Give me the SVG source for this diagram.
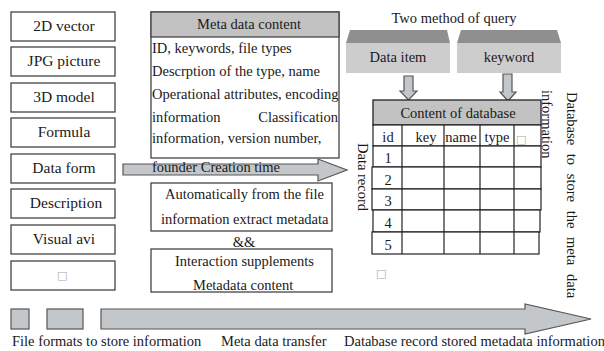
<svg xmlns="http://www.w3.org/2000/svg" width="604" height="351" viewBox="0 0 604 351">
<style>
.box{fill:#fff;stroke:#444;stroke-width:1.3}
.hdr{fill:#c2c2c2;stroke:#444;stroke-width:1.3}
.t{font-family:"Liberation Serif","Times New Roman",serif;font-size:14.5px;fill:#1a1a1a}
.big{font-size:15.5px}
.c{text-anchor:middle}
.e{text-anchor:end}
.arr{fill:#c3c7c9;stroke:#555;stroke-width:1.2}
.grid{fill:#fff;stroke:#222;stroke-width:1.2}
.ln{stroke:#222;stroke-width:1.2}
.tofu{font-family:"DejaVu Sans",sans-serif;font-size:11px;fill:#aaa}
.qtop{fill:#8f8f8f}
.qbody{fill:#cdcdcd}
</style>
<rect width="604" height="351" fill="#fff"/>

<g id="connectors">
  <polygon class="arr" points="123,164 318,164 318,159 347,170 318,181 318,175 123,175"/>
  <polygon class="arr" points="404,76 413,76 413,91 417,91 408.5,100 400,91 404,91"/>
  <polygon class="arr" points="503,74 512,74 512,92 516,92 508,101 500,92 503,92"/>
</g>

<g id="formats">
  <g id="n-2dvector"><rect class="box" x="11" y="12" width="104" height="29"/><text class="t big c" x="64" y="31">2D vector</text></g>
  <g id="n-jpg"><rect class="box" x="11" y="47" width="104" height="29"/><text class="t big c" x="64" y="66">JPG picture</text></g>
  <g id="n-3d"><rect class="box" x="11" y="83" width="104" height="29"/><text class="t big c" x="64" y="102">3D model</text></g>
  <g id="n-formula"><rect class="box" x="11" y="118" width="104" height="29"/><text class="t big c" x="64" y="137">Formula</text></g>
  <g id="n-dataform"><rect class="box" x="11" y="154" width="104" height="29"/><text class="t big c" x="64" y="173">Data form</text></g>
  <g id="n-description"><rect class="box" x="11" y="189" width="104" height="29"/><text class="t big c" x="66" y="208">Description</text></g>
  <g id="n-visual"><rect class="box" x="11" y="225" width="104" height="29"/><text class="t big c" x="64" y="244">Visual avi</text></g>
  <g id="n-other"><rect class="box" x="11" y="261" width="104" height="29"/><text class="tofu" x="57" y="279">□</text></g>
</g>

<g id="n-metadata">
  <rect class="box" x="151" y="12" width="188" height="146"/>
  <rect class="hdr" x="151" y="12" width="188" height="25"/>
  <text class="t c" x="249" y="29">Meta data content</text>
  <text class="t" x="152" y="53">ID, keywords, file types</text>
  <text class="t" x="152" y="76">Descrption of the type, name</text>
  <text class="t" x="152" y="99">Operational attributes, encoding</text>
  <text class="t" x="152" y="122">information</text>
  <text class="t e" x="338" y="122">Classification</text>
  <text class="t" x="152" y="143">information, version number,</text>
  <text class="t" x="152" y="172">founder Creation time</text>
</g>

<g id="n-auto">
  <rect class="box" x="151" y="183" width="181" height="48"/>
  <text class="t" x="165" y="199">Automatically from the file</text>
  <text class="t" x="161" y="224">information extract metadata</text>
</g>
<g id="n-and"><text class="t c" x="244" y="247">&amp;&amp;</text></g>
<g id="n-interact">
  <rect class="box" x="151" y="249" width="181" height="43"/>
  <text class="t" x="175" y="266">Interaction supplements</text>
  <text class="t" x="193" y="290">Metadata content</text>
</g>

<g id="n-query">
  <text class="t c" x="454" y="23">Two method of query</text>
  <g id="n-dataitem">
    <polygon class="qtop" points="350,30 447,30 450,43 346,43"/>
    <rect class="qbody" x="346" y="43" width="104" height="30"/>
    <text class="t c" x="398" y="62">Data item</text>
  </g>
  <g id="n-keyword">
    <polygon class="qtop" points="461,30 557,30 561,43 457,43"/>
    <rect class="qbody" x="457" y="43" width="104" height="30"/>
    <text class="t c" x="509" y="62">keyword</text>
  </g>
</g>

<g id="n-database">
  <rect class="hdr" x="373" y="100" width="168" height="25" style="stroke:#222"/>
  <text class="t c" x="458" y="118">Content of database</text>
  <rect class="grid" x="373" y="125" width="168" height="21"/>
  <rect class="grid" x="373" y="146" width="168" height="21"/>
  <rect class="grid" x="372" y="167" width="169" height="22"/>
  <rect class="grid" x="372" y="189" width="169" height="21"/>
  <rect class="grid" x="373" y="210" width="167" height="22"/>
  <rect class="grid" x="372" y="232" width="167" height="22"/>
  <line class="ln" x1="402" y1="125" x2="402" y2="254"/>
  <line class="ln" x1="444" y1="125" x2="444" y2="254"/>
  <line class="ln" x1="480" y1="125" x2="480" y2="254"/>
  <line class="ln" x1="514" y1="125" x2="514" y2="254"/>
  <text class="t c" x="388" y="142">id</text>
  <text class="t c" x="426" y="142">key</text>
  <text class="t c" x="461" y="142">name</text>
  <text class="t c" x="497" y="142">type</text>
  <text class="tofu" x="516" y="143">□</text>
  <text class="t c" x="388" y="163">1</text>
  <text class="t c" x="388" y="185">2</text>
  <text class="t c" x="388" y="206">3</text>
  <text class="t c" x="388" y="228">4</text>
  <text class="t c" x="388" y="250">5</text>
  <text class="tofu" x="376" y="277">□</text>
  <text class="t" transform="translate(358,143) rotate(90)">Data record</text>
  <text class="t" transform="translate(542,90) rotate(90)">information</text>
  <text class="t" transform="translate(567,92) rotate(90)"><tspan x="0">Database</tspan><tspan x="61.8">to</tspan><tspan x="81.8">store</tspan><tspan x="118.7">the</tspan><tspan x="145.1">meta</tspan><tspan x="182">data</tspan></text>
</g>

<g id="legend">
  <rect class="arr" x="11" y="309" width="18" height="20"/>
  <rect class="arr" x="47" y="309" width="36" height="20"/>
  <polygon class="arr" points="101,309 525,309 525,304 591,319 525,334 525,329 101,329"/>
  <text class="t" x="12" y="346">File formats to store information</text>
  <text class="t" x="221" y="346">Meta data transfer</text>
  <text class="t" x="344" y="346">Database record stored metadata information</text>
</g>
</svg>
